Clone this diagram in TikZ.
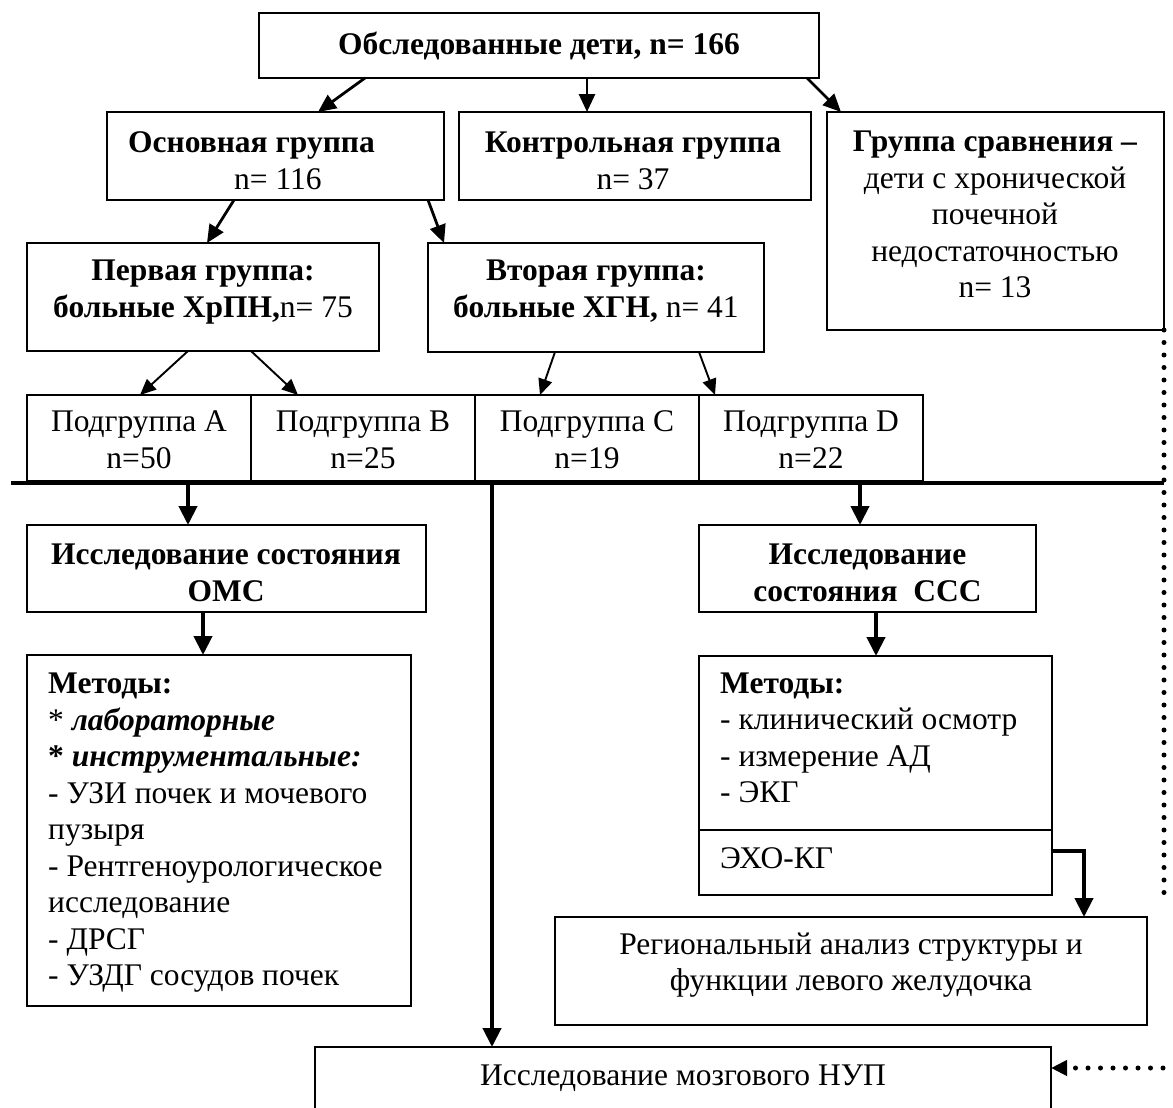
\documentclass[tikz,border=0pt]{standalone}
\usepackage{fontspec}
\setmainfont{Liberation Serif}
\usetikzlibrary{arrows.meta}
\newcommand\fsz{\fontsize{31.5pt}{36.5pt}\selectfont}
\begin{document}
\begin{tikzpicture}[x=1pt,y=-1pt,
  box/.style={draw, line width=1.9pt, anchor=north west, inner sep=0pt, outer sep=0pt},
  txt/.style={font=\fsz, align=center, inner sep=0pt, execute at begin node=\strut, execute at end node=\strut},
  ltxt/.style={txt, align=left, anchor=west},
  arr/.style={line width=2.8pt, -{Triangle[length=18pt,width=16pt]}},
  tarr/.style={line width=1.9pt, -{Triangle[length=16pt,width=14pt]}},
  karr/.style={line width=4.2pt, -{Triangle[length=19pt,width=18pt]}},
  dots/.style={line width=5pt, line cap=round, dash pattern=on 0pt off 12.5pt}]
\clip (0,0) rectangle (1173,1108);
\fill[white] (0,0) rectangle (1173,1108);
% boxes
\node[box,minimum width=560pt,minimum height=65pt] (top) at (259,13) {};
\node[txt] (topT) at (539,47) {\textbf{Обследованные дети, n= 166}};
\node[box,minimum width=337pt,minimum height=88pt] (main) at (107,112) {};
\node[ltxt] (mainT) at (128,166) {\textbf{Основная группа}\\\hspace*{106pt}n= 116};
\node[box,minimum width=352pt,minimum height=88pt] (ctrl) at (459,112) {};
\node[txt] (ctrlT) at (633,166) {\textbf{Контрольная группа}\\n= 37};
\node[box,minimum width=337pt,minimum height=218pt] (comp) at (827,112) {};
\node[txt] (compT) at (995,220) {\textbf{Группа сравнения –}\\дети с хронической\\почечной\\недостаточностью\\n= 13};
\node[box,minimum width=352pt,minimum height=108pt] (first) at (27,243) {};
\node[txt] (firstT) at (203,294) {\textbf{Первая группа:}\\\textbf{больные ХрПН,}n= 75};
\node[box,minimum width=336pt,minimum height=109pt] (second) at (428,243) {};
\node[txt] (secondT) at (596,294) {\textbf{Вторая группа:}\\\textbf{больные ХГН,} n= 41};
\node[box,minimum width=224pt,minimum height=86pt] (subA) at (27,395) {};
\node[box,minimum width=224pt,minimum height=86pt] (subB) at (251,395) {};
\node[box,minimum width=224pt,minimum height=86pt] (subC) at (475,395) {};
\node[box,minimum width=224pt,minimum height=86pt] (subD) at (699,395) {};
\node[txt] (subAT) at (139,445) {Подгруппа A\\n=50};
\node[txt] (subBT) at (363,445) {Подгруппа B\\n=25};
\node[txt] (subCT) at (587,445) {Подгруппа C\\n=19};
\node[txt] (subDT) at (811,445) {Подгруппа D\\n=22};
\node[box,minimum width=399pt,minimum height=87pt] (oms) at (27,525) {};
\begin{scope}
\clip (27,525) rectangle (426,601.5);
\node[txt] (omsT) at (226,578) {\textbf{Исследование состояния}\\\textbf{ОМС}};
\end{scope}
\node[box,minimum width=384pt,minimum height=351pt] (meth1) at (27,655) {};
\node[ltxt] (meth1T) at (48,835) {\textbf{Методы:}\\* \textbf{\textit{лабораторные}}\\\textbf{* \textit{инструментальные:}}\\- УЗИ почек и мочевого\\пузыря\\- Рентгеноурологическое\\исследование\\- ДРСГ\\- УЗДГ сосудов почек};
\node[box,minimum width=337pt,minimum height=87pt] (ccc) at (699,525) {};
\begin{scope}
\clip (699,525) rectangle (1036,601.5);
\node[txt] (cccT) at (867.5,578) {\textbf{Исследование}\\\textbf{состояния~~ССС}};
\end{scope}
\node[box,minimum width=353pt,minimum height=174pt] (meth2) at (699,656) {};
\node[box,minimum width=353pt,minimum height=65pt] (echo) at (699,830) {};
\node[ltxt] (meth2T) at (720,743) {\textbf{Методы:}\\- клинический осмотр\\- измерение АД\\- ЭКГ};
\node[ltxt] (echoT) at (720,861) {ЭХО-КГ};
\node[box,minimum width=592pt,minimum height=108pt] (reg) at (555,917) {};
\node[txt] (regT) at (851,967) {Региональный анализ структуры и\\функции левого желудочка};
\node[box,minimum width=736pt,minimum height=90pt] (nup) at (315,1047) {};
\node[txt] (nupT) at (683,1078) {Исследование мозгового НУП};
% connectors
\draw[arr] ([xshift=106pt]top.south west) -- ([xshift=211pt]main.north west);
\draw[arr] ([xshift=328pt]top.south west) -- ([xshift=128pt]ctrl.north west);
\draw[arr] ([xshift=548pt]top.south west) -- ([xshift=14pt]comp.north west);
\draw[arr] ([xshift=127pt]main.south west) -- ([xshift=180pt]first.north west);
\draw[arr] ([xshift=321pt]main.south west) -- ([xshift=16pt]second.north west);
\draw[tarr] ([xshift=161pt]first.south west) -- ([xshift=113pt]subA.north west);
\draw[tarr] ([xshift=224pt]first.south west) -- ([xshift=47pt]subB.north west);
\draw[tarr] ([xshift=127pt]second.south west) -- ([xshift=65pt]subC.north west);
\draw[tarr] ([xshift=271pt]second.south west) -- ([xshift=16pt]subD.north west);
\coordinate (busL) at (11,483);
\coordinate (busR) at (1164,483);
\draw[line width=4.5pt] (busL) -- (busR);
\draw[karr] (busL -| oms.north west) ++(161,0) -- ([xshift=161pt]oms.north west);
\draw[karr] (busL -| nup.north west) ++(177,0) -- ([xshift=177pt]nup.north west);
\draw[karr] (busL -| ccc.north west) ++(161,0) -- ([xshift=161pt]ccc.north west);
\draw[karr] ([xshift=176pt]oms.south west) -- ([xshift=176pt]meth1.north west);
\draw[karr] ([xshift=177pt]ccc.south west) -- ([xshift=177pt]meth2.north west);
\draw[karr] ([yshift=11.5pt]echo.east) -| ([xshift=233pt]reg.north);
\coordinate (dotEnd) at (1164,893);
\draw[dots] (comp.south east) -- (dotEnd);
\coordinate (dotR) at (1163,1068);
\draw[dots, -{Triangle[length=16pt,width=15pt]}] (dotR) -- (dotR -| nup.east);
\end{tikzpicture}
\end{document}
